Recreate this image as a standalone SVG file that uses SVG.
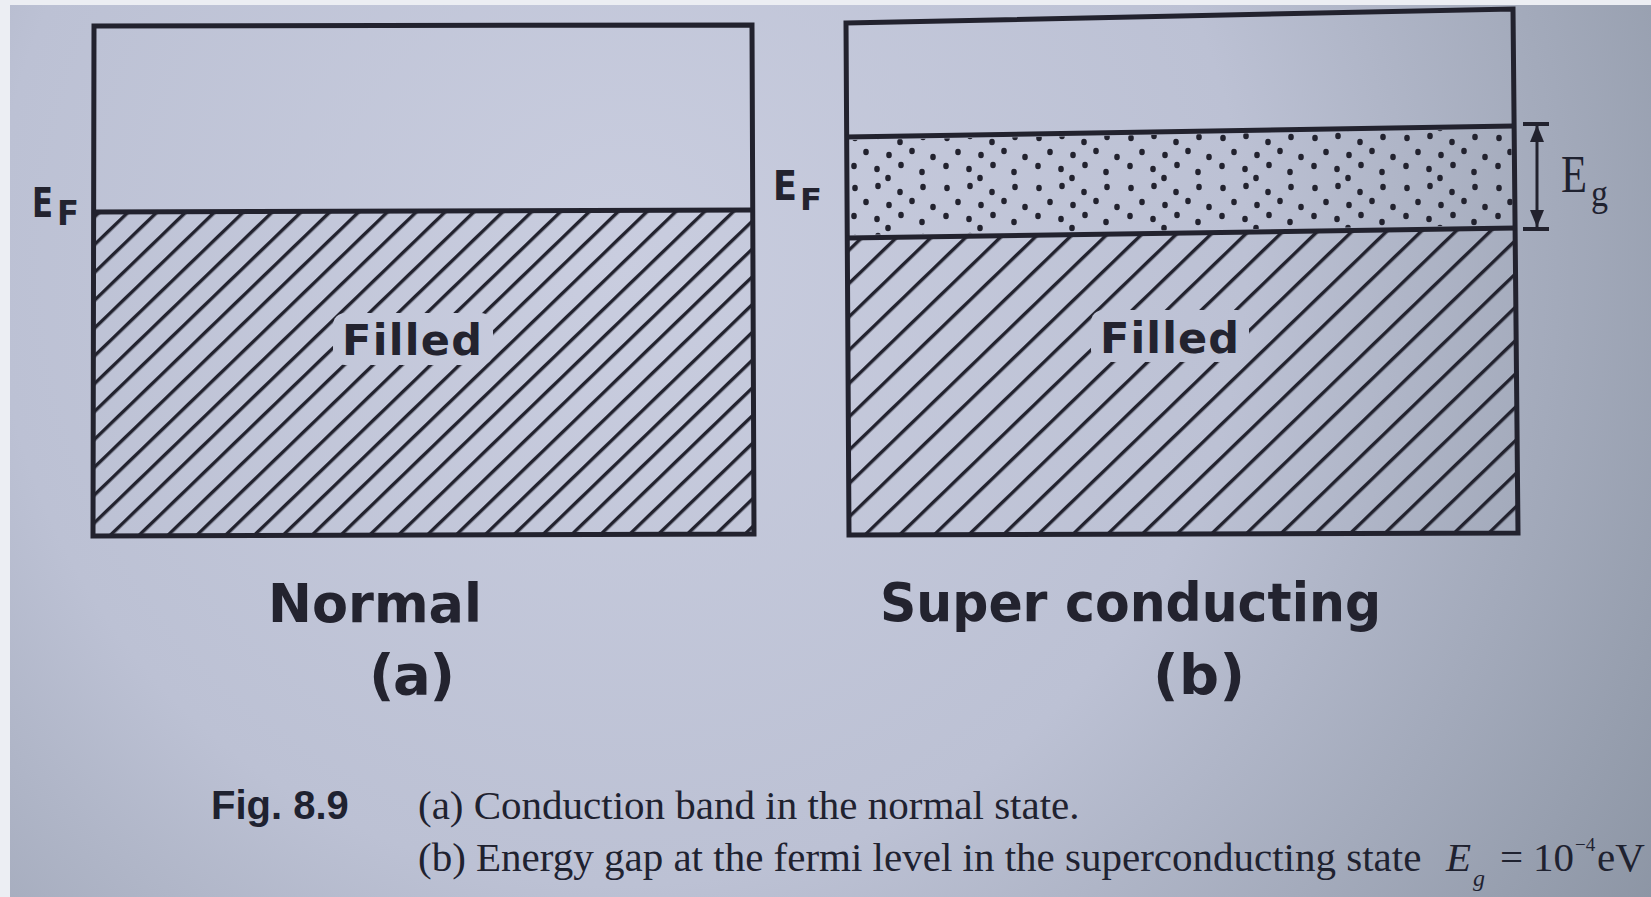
<svg xmlns="http://www.w3.org/2000/svg" width="1651" height="897" viewBox="0 0 1651 897">
<style>
.outline{fill:none;stroke:#22222e;stroke-width:5;stroke-linejoin:miter}
.div{fill:none;stroke:#22222e;stroke-width:5}
.lbl{font-family:"DejaVu Sans","Liberation Sans",sans-serif;font-weight:bold;fill:#23232f}
.ser{font-family:"Liberation Serif","Times New Roman",serif;fill:#1f2230}
.cap{font-family:"Liberation Serif","Times New Roman",serif;fill:#1f2230;font-size:41px}
.figno{font-family:"Liberation Sans",Arial,sans-serif;font-weight:bold;fill:#1f2230;font-size:40px}
.dim{fill:none;stroke:#22222e;stroke-width:3}
.bar{fill:none;stroke:#22222e;stroke-width:4}
</style>
<defs>
<radialGradient id="bg" cx="620" cy="260" r="1250" gradientUnits="userSpaceOnUse">
<stop offset="0" stop-color="#c9cddf"/>
<stop offset="0.5" stop-color="#bcc1d4"/>
<stop offset="1" stop-color="#8a93a2"/>
</radialGradient>
<pattern id="hatchA" patternUnits="userSpaceOnUse" width="12" height="20" patternTransform="rotate(-44)">
<rect x="0" y="0" width="12" height="3.4" fill="#22222e"/>
</pattern>
<pattern id="hatchB" patternUnits="userSpaceOnUse" width="12" height="24" patternTransform="rotate(-44)">
<rect x="0" y="0" width="12" height="3.4" fill="#22222e"/>
</pattern>
<pattern id="dots" patternUnits="userSpaceOnUse" x="848" y="132" width="92" height="50">
<g fill="#22222e">
<ellipse cx="7" cy="6" rx="2.8" ry="3.3"/>
<ellipse cx="30" cy="4" rx="2.8" ry="3.3"/>
<ellipse cx="52" cy="10" rx="2.8" ry="3.3"/>
<ellipse cx="75" cy="5" rx="2.8" ry="3.3"/>
<ellipse cx="18" cy="20" rx="2.8" ry="3.3"/>
<ellipse cx="41" cy="23" rx="2.8" ry="3.3"/>
<ellipse cx="64" cy="19" rx="2.8" ry="3.3"/>
<ellipse cx="85" cy="25" rx="2.8" ry="3.3"/>
<ellipse cx="6" cy="34" rx="2.8" ry="3.3"/>
<ellipse cx="29" cy="37" rx="2.8" ry="3.3"/>
<ellipse cx="53" cy="33" rx="2.8" ry="3.3"/>
<ellipse cx="74" cy="40" rx="2.8" ry="3.3"/>
<ellipse cx="40" cy="46" rx="2.8" ry="3.3"/>
</g>
</pattern>
<mask id="maskA" maskUnits="userSpaceOnUse" x="0" y="0" width="1651" height="897">
<rect x="0" y="0" width="1651" height="897" fill="#fff"/>
<rect x="333" y="313" width="160" height="52" rx="12" fill="#000"/>
</mask>
<mask id="maskB" maskUnits="userSpaceOnUse" x="0" y="0" width="1651" height="897">
<rect x="0" y="0" width="1651" height="897" fill="#fff"/>
<rect x="1091" y="310" width="158" height="52" rx="12" fill="#000"/>
</mask>
<marker id="head" viewBox="0 0 17 14" refX="17" refY="7" markerWidth="17" markerHeight="14" markerUnits="userSpaceOnUse" orient="auto-start-reverse">
<path d="M0,0 L17,7 L0,14 Z" fill="#22222e"/>
</marker>
</defs>

<rect x="0" y="0" width="1651" height="897" fill="url(#bg)"/>
<rect x="0" y="0" width="10" height="897" fill="#eceef3"/>
<rect x="0" y="0" width="1651" height="5" fill="#eceef3"/>

<g id="panel-a">
<path d="M94,212 L753,210 L754,534 L93,536 Z" fill="url(#hatchA)" mask="url(#maskA)"/>
<path class="outline" d="M94,26 L752,25 L754,534 L93,536 Z"/>
<path class="div" d="M94,212 L753,210"/>
<text class="lbl" x="342" y="355" font-size="43" textLength="140" lengthAdjust="spacing">Filled</text>
</g>

<g id="label-ef-a">
<text class="lbl" x="32" y="217" font-size="40" textLength="21" lengthAdjust="spacingAndGlyphs">E</text>
<text class="lbl" x="57" y="225" font-size="33" textLength="22" lengthAdjust="spacingAndGlyphs">F</text>
</g>

<g id="label-ef-b">
<text class="lbl" x="773" y="200" font-size="41" textLength="24" lengthAdjust="spacingAndGlyphs">E</text>
<text class="lbl" x="800" y="210" font-size="30" textLength="22" lengthAdjust="spacingAndGlyphs">F</text>
</g>

<g id="panel-b">
<path d="M847,238 L1516,228 L1518,533 L849,535 Z" fill="url(#hatchB)" mask="url(#maskB)"/>
<path d="M849,140 L1511,129 L1513,225 L850,235 Z" fill="url(#dots)"/>
<path class="outline" d="M846,23 L1513,9 L1518,533 L849,535 Z"/>
<path class="div" d="M846,137 L1514,126"/>
<path class="div" d="M847,238 L1516,228"/>
<text class="lbl" x="1100" y="353" font-size="43" textLength="139" lengthAdjust="spacing">Filled</text>
</g>

<g id="connectors">
<path class="dim" d="M1537,227 L1537,125" marker-start="url(#head)" marker-end="url(#head)"/>
<path class="bar" d="M1523,124 H1549"/>
<path class="bar" d="M1523,229 H1549"/>
</g>

<g id="label-eg">
<text class="ser" x="1561" y="192" font-size="52" textLength="26" lengthAdjust="spacingAndGlyphs">E</text>
<text class="ser" x="1591" y="206" font-size="38" textLength="17" lengthAdjust="spacingAndGlyphs">g</text>
</g>

<g id="titles">
<text class="lbl" x="268" y="622" font-size="54" textLength="214" lengthAdjust="spacingAndGlyphs">Normal</text>
<text class="lbl" x="369" y="694" font-size="56" textLength="86" lengthAdjust="spacing">(a)</text>
<text class="lbl" x="880" y="621" font-size="54" textLength="501" lengthAdjust="spacingAndGlyphs">Super conducting</text>
<text class="lbl" x="1153" y="694" font-size="56" textLength="92" lengthAdjust="spacing">(b)</text>
</g>

<g id="caption">
<text class="figno" x="211" y="819">Fig. 8.9</text>
<text class="cap" x="418" y="819">(a) Conduction band in the normal state.</text>
<text class="cap" x="418" y="871">(b) Energy gap at the fermi level in the superconducting state</text>
<text class="cap" x="1446" y="871" font-style="italic">E<tspan x="1473" dy="15" font-size="24">g</tspan></text>
<text class="cap" x="1500" y="871">=</text>
<text class="cap" x="1533" y="871">10<tspan x="1575" dy="-20" font-size="19">−4</tspan><tspan x="1597" dy="20">eV</tspan></text>
</g>
</svg>
